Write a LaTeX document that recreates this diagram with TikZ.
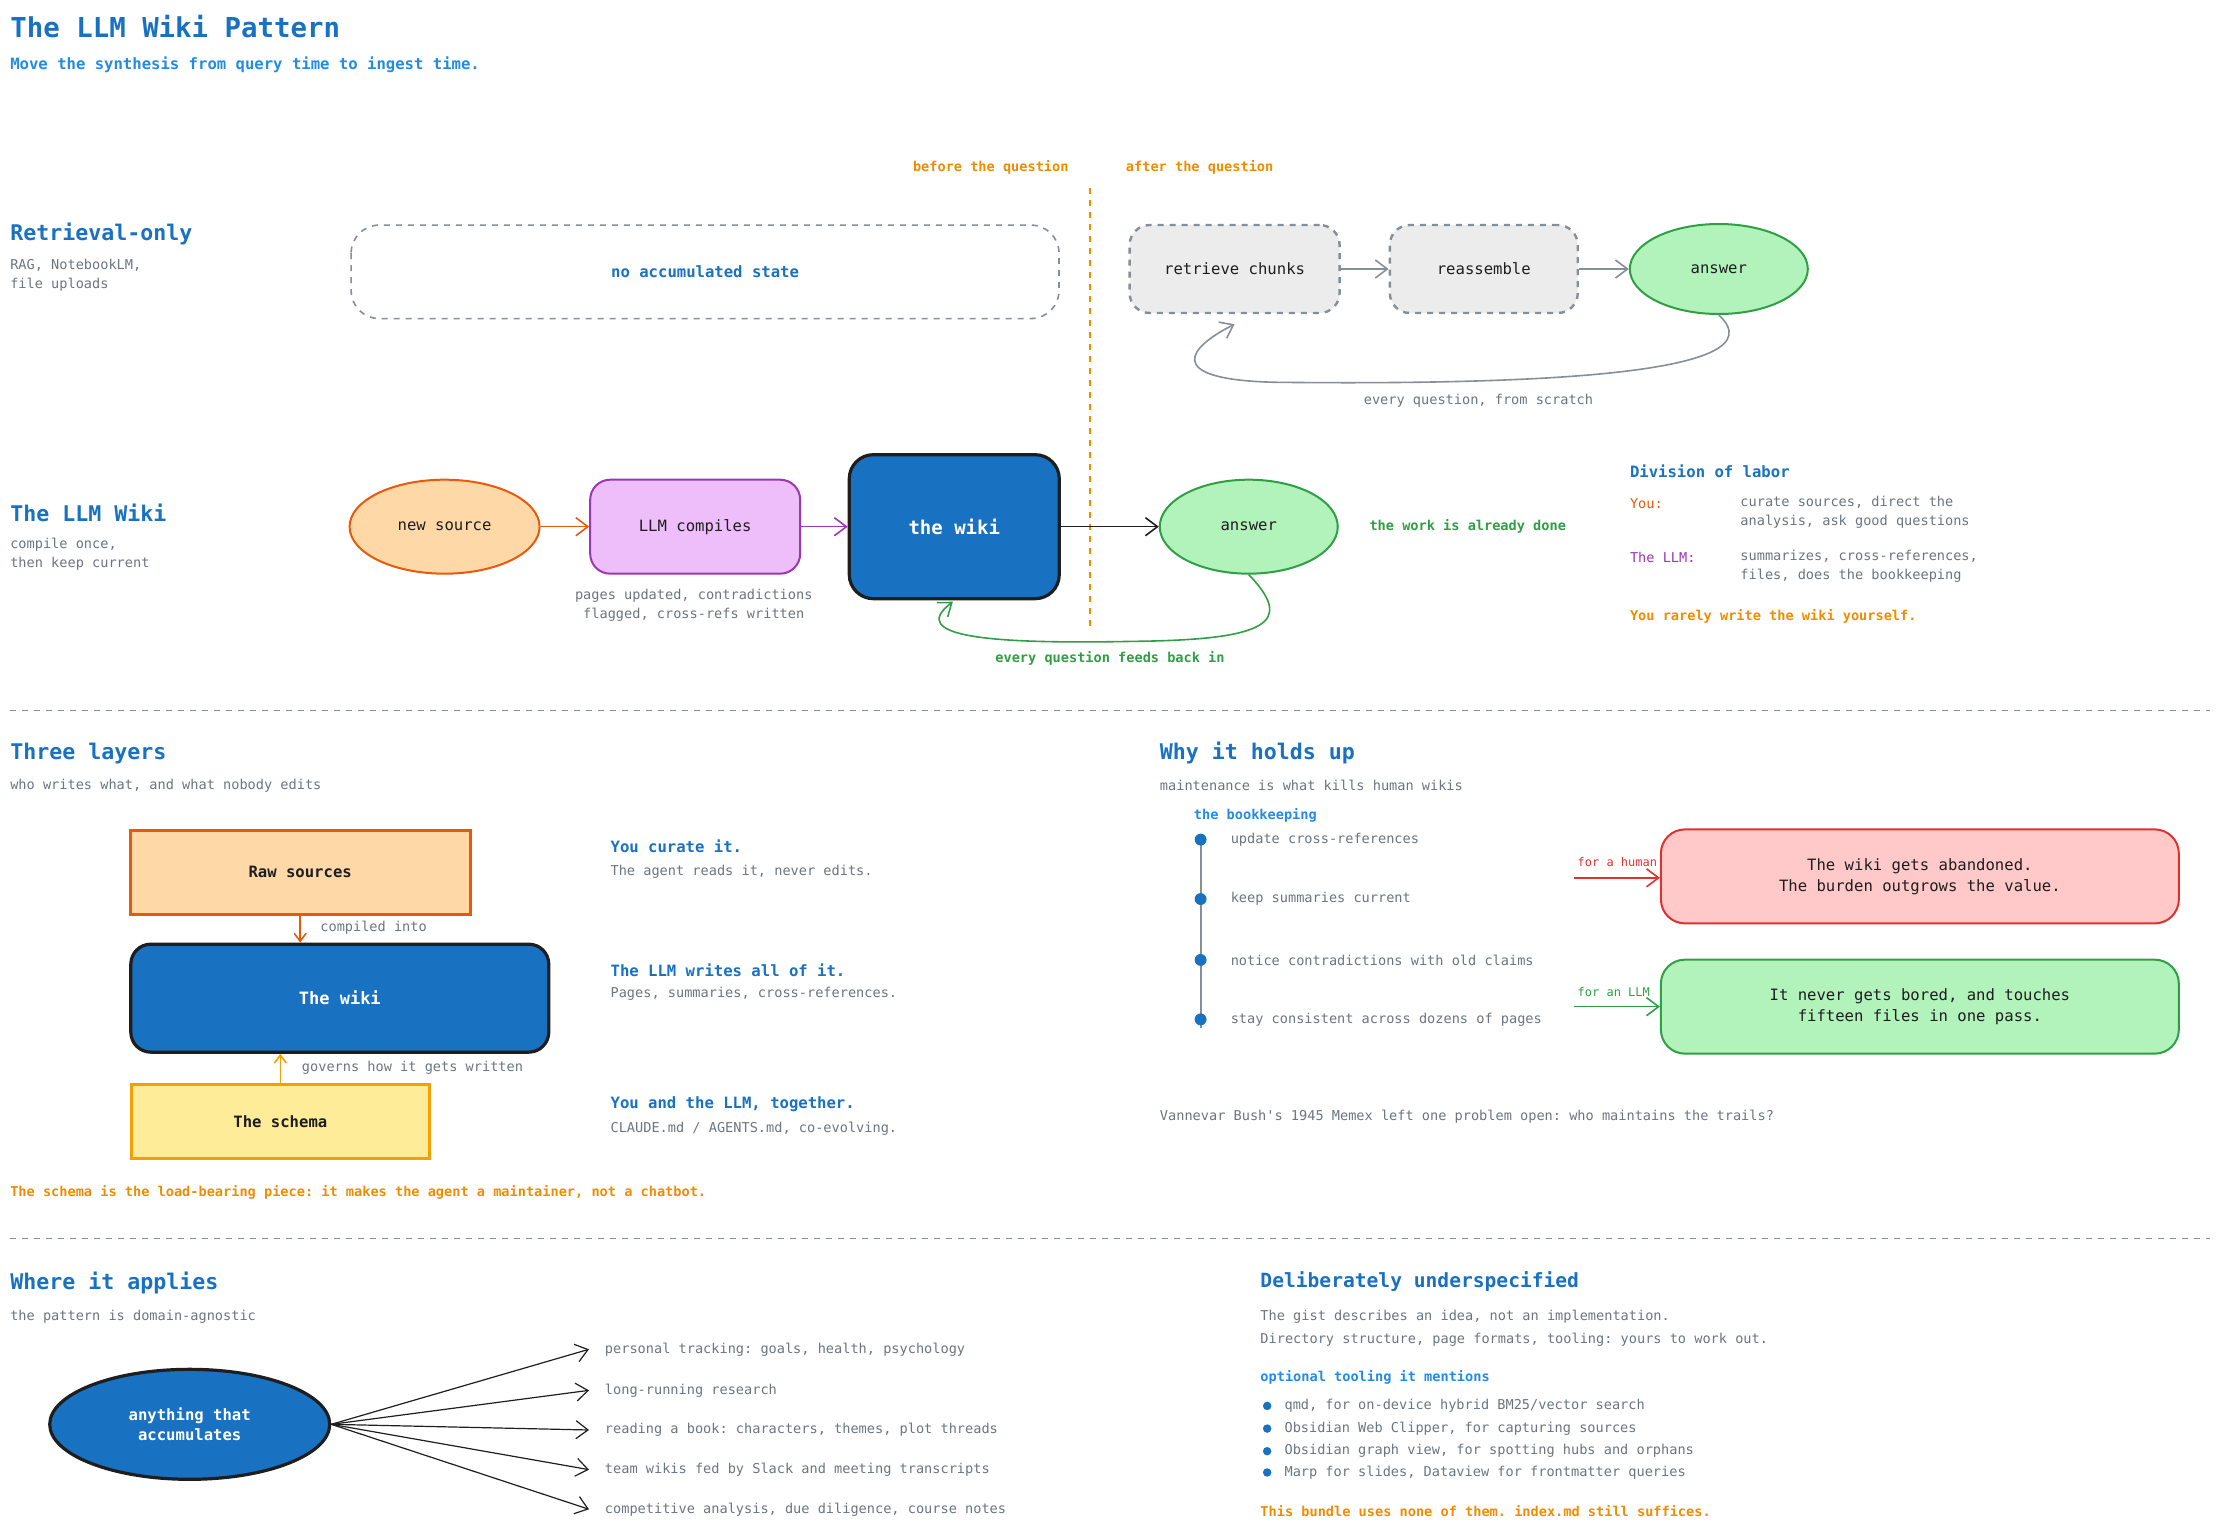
\documentclass[tikz,border=0pt]{standalone}
\usepackage{fontspec}
\setmonofont{DejaVu Sans Mono}
\usetikzlibrary{arrows.meta,positioning,shapes.geometric}
\definecolor{hblue}{HTML}{1971C2}
\definecolor{lblue}{HTML}{228BE6}
\definecolor{gtext}{HTML}{6C757D}
\definecolor{gline}{HTML}{868E96}
\definecolor{otext}{HTML}{F08C00}
\definecolor{oline}{HTML}{E8590C}
\definecolor{ofill}{HTML}{FFD8A8}
\definecolor{pline}{HTML}{9C36B5}
\definecolor{pfill}{HTML}{EEBEFA}
\definecolor{gnline}{HTML}{2F9E44}
\definecolor{gnfill}{HTML}{B2F2BB}
\definecolor{rline}{HTML}{E03131}
\definecolor{rfill}{HTML}{FFC9C9}
\definecolor{yfill}{HTML}{FFEC99}
\definecolor{yline}{HTML}{F59F00}
\definecolor{dark}{HTML}{1E1E1E}
\newcommand{\fsmall}{\ttfamily\fontsize{6.8}{9.5}\selectfont}
\newcommand{\fmid}{\ttfamily\fontsize{7.8}{10.5}\selectfont}
\newcommand{\fhead}{\ttfamily\bfseries\fontsize{10.8}{13}\selectfont}
\tikzset{
  txt/.style={anchor=west,inner sep=0pt,font=\fsmall,text=gtext},
  note/.style={anchor=west,inner sep=0pt,font=\fsmall\bfseries,text=otext},
  head/.style={anchor=west,inner sep=0pt,font=\fhead,text=hblue},
  sub/.style={anchor=west,inner sep=0pt,font=\fmid\bfseries,text=hblue},
  boxtext/.style={font=\fmid,text=dark,align=center},
  sep/.style={gline,dashed,line width=0.6pt},
  arr/.style={-{Straight Barb[length=6pt,width=9pt]},line width=0.8pt},
}
\begin{document}
\begin{tikzpicture}[x=0.708pt,y=-0.708pt]
\useasboundingbox (0,0) rectangle (1568,1081);
% title
\node[head,font=\ttfamily\bfseries\fontsize{13.7}{16}\selectfont] (title) at (7,19) {The LLM Wiki Pattern};
\node[sub,text=lblue] (subtitle) at (7,46) {Move the synthesis from query time to ingest time.};

% timeline split
\node[note,anchor=east] (before) at (755,118) {before the question};
\node[note] (after) at (795,118) {after the question};
\draw[otext,dashed,line width=1pt] (770,133) -- (770,445);

% retrieval-only row
\node[head] (rhead) at (7,165) {Retrieval-only};
\node[txt,align=left,anchor=north west] (rsub) at (7,183) {RAG, NotebookLM,\\file uploads};
\draw[gline,dashed,line width=0.8pt,rounded corners=14] (248,159) rectangle (748,225);
\node[font=\fmid\bfseries,text=hblue] (nostate) at (498,192) {no accumulated state};
\node[boxtext,draw=gline,dashed,line width=1.2pt,fill=gray!15,rounded corners=10,minimum width=105pt,minimum height=44pt] (retrieve) at (872,190) {retrieve chunks};
\node[boxtext,draw=gline,dashed,line width=1.2pt,fill=gray!15,rounded corners=10,minimum width=94pt,minimum height=44pt] (reasm) at (1048,190) {reassemble};
\node[boxtext,ellipse,draw=gnline,line width=1pt,fill=gnfill,minimum width=89pt,minimum height=45pt] (ans1) at (1214,190) {answer};
\draw[arr,gline] (retrieve) -- (reasm);
\draw[arr,gline] (reasm) -- (ans1);
\draw[arr,gline] (ans1.south) .. controls (1260,265) and (1080,272) .. (900,270)
  .. controls (820,268) and (840,245) .. (872,229);
\node[txt] (scratch) at (963,283) {every question, from scratch};

% LLM wiki row
\node[head] (whead) at (7,362) {The LLM Wiki};
\node[txt,align=left,anchor=north west] (wsub) at (7,380) {compile once,\\then keep current};
\node[boxtext,ellipse,draw=oline,line width=1pt,fill=ofill,minimum width=95pt,minimum height=47pt] (src) at (314,372) {new source};
\node[boxtext,draw=pline,line width=1pt,fill=pfill,rounded corners=10,minimum width=105pt,minimum height=47pt] (comp) at (491,372) {LLM compiles};
\node[font=\ttfamily\bfseries\fontsize{9.5}{11}\selectfont,text=white,draw=dark,line width=1.6pt,fill=hblue,rounded corners=12,minimum width=105pt,minimum height=72pt] (wiki) at (674,372) {the wiki};
\node[boxtext,ellipse,draw=gnline,line width=1pt,fill=gnfill,minimum width=89pt,minimum height=47pt] (ans2) at (882,372) {answer};
\draw[arr,oline] (src) -- (comp);
\draw[arr,pline] (comp) -- (wiki);
\draw[arr,dark] (wiki) -- (ans2);
\node[txt,align=center,anchor=north] (pages) at (490,416) {pages updated, contradictions\\flagged, cross-refs written};
\draw[arr,gnline] (ans2.south) .. controls (915,440) and (895,452) .. (800,453)
  .. controls (700,455) and (640,450) .. (673,425);
\node[font=\fsmall\bfseries,text=gnline] (feeds) at (784,465) {every question feeds back in};
\node[note,text=gnline] (done) at (967,372) {the work is already done};

% division of labor
\node[sub] (div) at (1151,333) {Division of labor};
\node[note,font=\fsmall,text=oline] (you) at (1151,356) {You:};
\node[txt,align=left,anchor=north west] (youtxt) at (1229,350) {curate sources, direct the\\analysis, ask good questions};
\node[note,font=\fsmall,text=pline] (llm) at (1151,394) {The LLM:};
\node[txt,align=left,anchor=north west] (llmtxt) at (1229,388) {summarizes, cross-references,\\files, does the bookkeeping};
\node[note] (rarely) at (1151,435) {You rarely write the wiki yourself.};

\draw[sep] (7,502) -- (1561,502);

% three layers
\node[head] (lhead) at (7,532) {Three layers};
\node[txt] (lsub) at (7,555) {who writes what, and what nobody edits};
\node[boxtext,font=\fmid\bfseries,draw=oline,line width=1.4pt,fill=ofill,minimum width=170pt,minimum height=42pt] (raw) at (212,616) {Raw sources};
\node[font=\ttfamily\bfseries\fontsize{8.5}{10}\selectfont,text=white,draw=dark,line width=1.6pt,fill=hblue,rounded corners=10,minimum width=209pt,minimum height=54pt] (lwiki) at (240,705) {The wiki};
\node[boxtext,font=\fmid\bfseries,draw=yline,line width=1.4pt,fill=yfill,minimum width=149pt,minimum height=37pt] (schema) at (198,792) {The schema};
\draw[-{Straight Barb[length=4pt,width=6pt]},oline,line width=0.8pt] (raw.south) -- (raw.south |- lwiki.north);
\node[txt] (compiled) at (226,655) {compiled into};
\draw[-{Straight Barb[length=4pt,width=6pt]},yline,line width=0.8pt] (schema.north) -- (schema.north |- lwiki.south);
\node[txt] (governs) at (213,754) {governs how it gets written};
\node[sub] (curate) at (431,598) {You curate it.};
\node[txt] (curtxt) at (431,616) {The agent reads it, never edits.};
\node[sub] (writes) at (431,685) {The LLM writes all of it.};
\node[txt] (writxt) at (431,702) {Pages, summaries, cross-references.};
\node[sub] (together) at (431,780) {You and the LLM, together.};
\node[txt] (togtxt) at (431,797) {CLAUDE.md / AGENTS.md, co-evolving.};
\node[note] (loadnote) at (7,842) {The schema is the load-bearing piece: it makes the agent a maintainer, not a chatbot.};

% why it holds up
\node[head] (hhead) at (819,532) {Why it holds up};
\node[txt] (hsub) at (819,555) {maintenance is what kills human wikis};
\node[sub,font=\fsmall\bfseries,text=lblue] (book) at (843,576) {the bookkeeping};
\draw[gline,line width=1pt] (848,593) -- (848,726);
\foreach \y/\t [count=\i] in {593/update cross-references,635/keep summaries current,678/notice contradictions with old claims,720/stay consistent across dozens of pages}{
  \fill[hblue] (848,\y) circle (4.2);
  \node[txt] (task\i) at (869,\y) {\t};
}
\node[boxtext,draw=rline,line width=1pt,fill=rfill,rounded corners=12,minimum width=259pt,minimum height=47pt] (abandon) at (1356,619) {The wiki gets abandoned.\\The burden outgrows the value.};
\node[boxtext,draw=gnline,line width=1pt,fill=gnfill,rounded corners=12,minimum width=259pt,minimum height=47pt] (never) at (1356,711) {It never gets bored, and touches\\fifteen files in one pass.};
\coordinate (hstart) at (1112,620);
\coordinate (lstart) at (1112,711);
\draw[arr,rline] (hstart) -- (hstart -| abandon.west);
\draw[arr,gnline] (lstart) -- (lstart -| never.west);
\node[txt,font=\ttfamily\fontsize{6}{7}\selectfont,text=rline] (human) at (1114,609) {for a human};
\node[txt,font=\ttfamily\fontsize{6}{7}\selectfont,text=gnline] (forllm) at (1114,701) {for an LLM};
\node[txt] (memex) at (819,789) {Vannevar Bush's 1945 Memex left one problem open: who maintains the trails?};

\draw[sep] (7,875) -- (1561,875);

% where it applies
\node[head] (ahead) at (7,906) {Where it applies};
\node[txt] (asub) at (7,930) {the pattern is domain-agnostic};
\node[font=\ttfamily\bfseries\fontsize{7.8}{10}\selectfont,text=white,align=center,ellipse,draw=dark,line width=1.6pt,fill=hblue,minimum width=140pt,minimum height=55pt] (any) at (134,1006) {anything that\\accumulates};
\foreach \y/\t [count=\i] in {953/{personal tracking: goals, health, psychology},982/long-running research,1010/{reading a book: characters, themes, plot threads},1038/team wikis fed by Slack and meeting transcripts,1066/{competitive analysis, due diligence, course notes}}{
  \coordinate (tip\i) at (416,\y);
  \draw[arr,dark,line width=0.6pt] (any.east) -- (tip\i);
  \node[txt] (use\i) at (427,\y) {\t};
}

% deliberately underspecified
\node[head,font=\ttfamily\bfseries\fontsize{9.8}{12}\selectfont] (uhead) at (890,905) {Deliberately underspecified};
\node[txt] (u1) at (890,930) {The gist describes an idea, not an implementation.};
\node[txt] (u2) at (890,946) {Directory structure, page formats, tooling: yours to work out.};
\node[sub,font=\fsmall\bfseries,text=lblue] (opt) at (890,973) {optional tooling it mentions};
\foreach \y/\t [count=\i] in {993/{qmd, for on-device hybrid BM25/vector search},1009/{Obsidian Web Clipper, for capturing sources},1025/{Obsidian graph view, for spotting hubs and orphans},1040/{Marp for slides, Dataview for frontmatter queries}}{
  \fill[hblue] (895,\y) circle (3);
  \node[txt] (tool\i) at (907,\y) {\t};
}
\node[note] (bundle) at (890,1067) {This bundle uses none of them. index.md still suffices.};
\end{tikzpicture}
\end{document}
